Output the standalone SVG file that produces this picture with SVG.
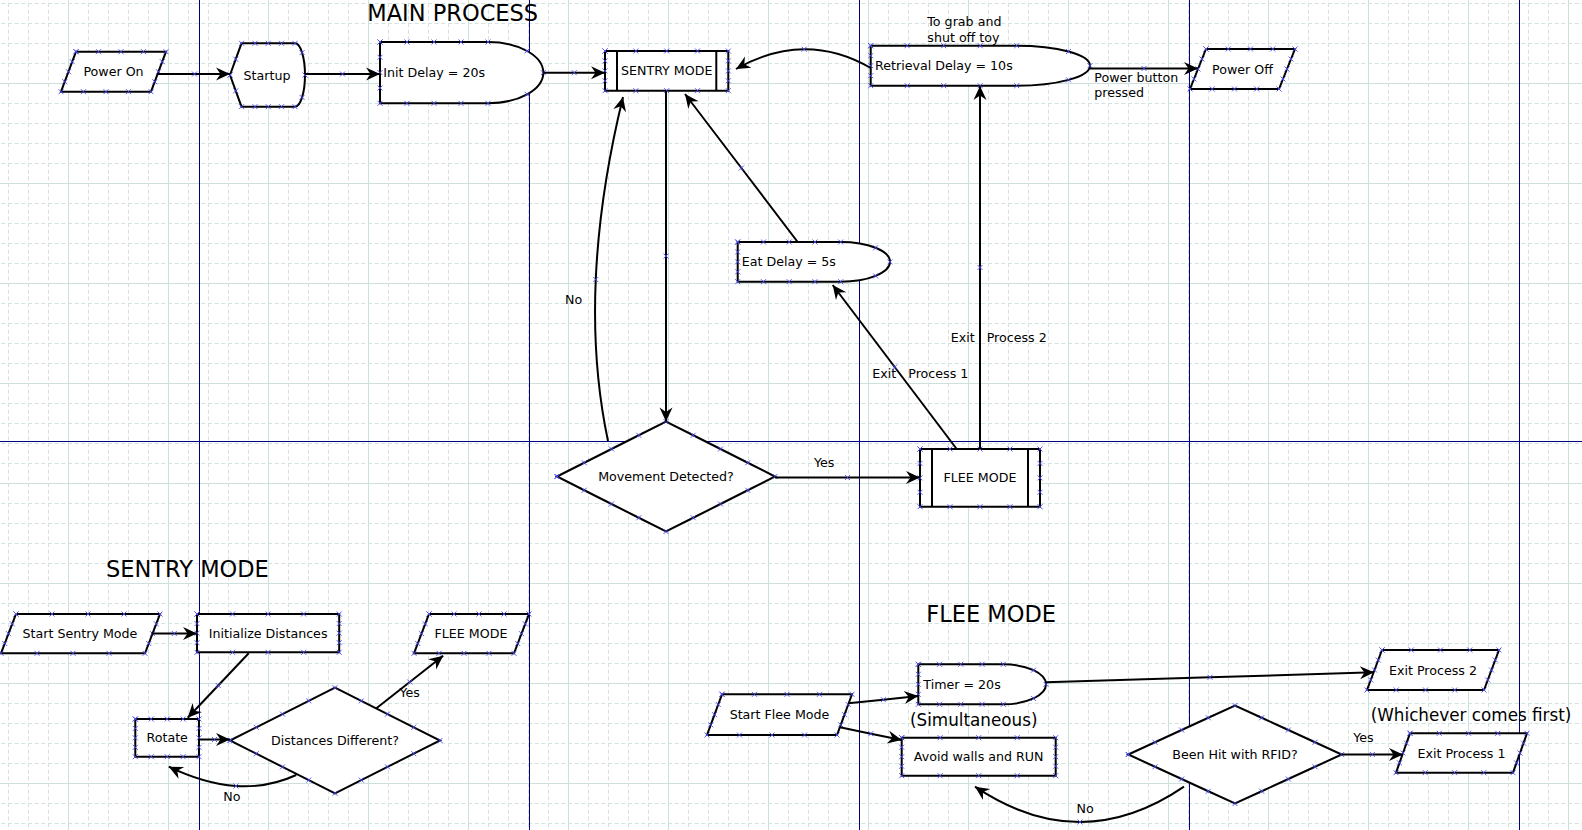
<svg xmlns="http://www.w3.org/2000/svg" width="1582" height="830" viewBox="0 0 1582 830">
<defs>
<pattern id="grid" patternUnits="userSpaceOnUse" x="68" y="83" width="100" height="100">
<path d="M20.5 0V100M40.5 0V100M60.5 0V100M80.5 0V100M0 20.5H100M0 40.5H100M0 60.5H100M0 80.5H100" stroke="#d2e2de" stroke-width="1" stroke-dasharray="4 2.667" fill="none"/>
<path d="M0.5 0V100M0 0.5H100" stroke="#cde0dc" stroke-width="1" fill="none"/>
</pattern>
<marker id="cp" markerUnits="userSpaceOnUse" markerWidth="8" markerHeight="8" viewBox="0 0 8 8" refX="4" refY="4" overflow="visible">
<path d="M1.5 1.5L6.5 6.5M6.5 1.5L1.5 6.5" stroke="#4b4bf0" stroke-width="0.9" fill="none"/>
</marker>
<marker id="arrow" markerUnits="userSpaceOnUse" markerWidth="16" markerHeight="14" viewBox="-15 -7 16 14" refX="0" refY="0" orient="auto" overflow="visible">
<path d="M0 0L-14 -6.5L-9.5 0L-14 6.5Z" fill="#000"/>
</marker>
</defs>
<style>
.shape{fill:#fff;stroke:#000;stroke-width:2;marker-start:url(#cp);marker-mid:url(#cp);marker-end:url(#cp)}
.inner{fill:none;stroke:#000;stroke-width:2}
.edge{fill:none;stroke:#000;stroke-width:2;marker-mid:url(#cp);marker-end:url(#arrow)}
text{font-family:"DejaVu Sans","Liberation Sans",sans-serif;font-size:12.65px;fill:#000}
.c{text-anchor:middle}
.title{font-size:22.5px}
.big{font-size:16.8px}
.pre{white-space:pre}
</style>
<rect width="1582" height="830" fill="#fff"/>
<rect width="1582" height="830" fill="url(#grid)"/>
<path d="M199.5 0V830M529.5 0V830M859.5 0V830M1189.5 0V830M1519.5 0V830M0 441.5H1582" stroke="#000080" stroke-width="1" fill="none"/>

<g id="n-power-on"><path class="shape" d="M76 51.7H98.5H121H143.5H166L162.25 61.7L158.5 71.7L154.75 81.7L151 91.7H128.5H106H83.5H61L64.75 81.7L68.5 71.7L72.25 61.7Z"/><text class="c" x="113.5" y="76">Power On</text></g>
<g id="n-startup"><path class="shape" d="M230 75L235.75 59.15L241.5 43.3H255H268.25H281.5H295A10 31.7 0 0 1 302.07 52.58A10 31.7 0 0 1 305 75A10 31.7 0 0 1 302.07 97.42A10 31.7 0 0 1 295 106.7H281.5H268.25H255H241.5L235.75 90.85Z"/><text class="c" x="267" y="79.5">Startup</text></g>
<g id="n-init-delay"><path class="shape" d="M380 42H407H434H461H488A55.3 30.65 0 0 1 527.1 51A55.3 30.65 0 0 1 543.3 72.65A55.3 30.65 0 0 1 527.1 94.3A55.3 30.65 0 0 1 488 103.3H461H434H407H380V88V72.65V57.3Z"/><text x="383.3" y="77">Init Delay = 20s</text></g>
<g id="n-sentry"><path class="shape" d="M605 51H635.8H666.7H697.5H728.3V60.9V70.9V80.8V90.7H697.5H666.7H635.8H605V80.8V70.9V60.9Z"/><path class="inner" d="M617 51V90.7M716.3 51V90.7"/><text class="c" x="666.7" y="75.4">SENTRY MODE</text></g>
<g id="n-retrieval"><path class="shape" d="M870.7 45.7H907.2H943.7H980.2H1016.7A73.3 20 0 0 1 1068.5 51.56A73.3 20 0 0 1 1090 65.7A73.3 20 0 0 1 1068.5 79.84A73.3 20 0 0 1 1016.7 85.7H980.2H943.7H907.2H870.7V75.7V65.7V55.7Z"/><text x="875" y="70.2">Retrieval Delay = 10s</text></g>
<g id="n-power-off"><path class="shape" d="M1206 49H1228.25H1250.5H1272.75H1295L1291 59L1287 69L1283 79L1279 89H1256.75H1234.5H1212.25H1190L1194 79L1198 69L1202 59Z"/><text class="c" x="1242.5" y="73.5">Power Off</text></g>
<g id="n-eat-delay"><path class="shape" d="M737.7 242H763.45H789.2H814.95H840.7A49.3 19.85 0 0 1 875.56 247.8A49.3 19.85 0 0 1 890 261.85A49.3 19.85 0 0 1 875.56 275.9A49.3 19.85 0 0 1 840.7 281.7H814.95H789.2H763.45H737.7V271.8V261.85V251.9Z"/><text x="741.7" y="266.3">Eat Delay = 5s</text></g>
<g id="n-movement"><path class="shape" d="M557 476.5L584.25 462.75L611.5 449L638.75 435.25L666 421.5L693.25 435.25L720.5 449L747.75 462.75L775 476.5L747.75 490.25L720.5 504L693.25 517.75L666 531.5L638.75 517.75L611.5 504L584.25 490.25Z"/><text class="c" x="666" y="480.8">Movement Detected?</text></g>
<g id="n-flee"><path class="shape" d="M920 449H950H980H1010H1040V463.4V477.9V492.3V506.7H1010H980H950H920V492.3V477.9V463.4Z"/><path class="inner" d="M932 449V506.7M1028 449V506.7"/><text class="c" x="980" y="482">FLEE MODE</text></g>

<g id="n-start-sentry"><path class="shape" d="M16 614H52H88H124H160L156.25 623.8L152.5 633.65L148.75 643.5L145 653.3H109H73H37H1L4.75 643.5L8.5 633.65L12.25 623.8Z"/><text class="c" x="80" y="637.8">Start Sentry Mode</text></g>
<g id="n-init-dist"><path class="shape" d="M197 614H232.55H268.1H303.65H339.2V623.6V633.15V642.7V652.3H303.65H268.1H232.55H197V642.7V633.15V623.6Z"/><text class="c" x="268.1" y="637.5">Initialize Distances</text></g>
<g id="n-flee-sub"><path class="shape" d="M429 614H454H479H504H529L525.25 623.8L521.5 633.65L517.75 643.5L514 653.3H489H464H439H414L417.75 643.5L421.5 633.65L425.25 623.8Z"/><text class="c" x="471" y="637.8">FLEE MODE</text></g>
<g id="n-rotate"><path class="shape" d="M135.3 719H151.2H167.2H183.1H199V728.4V737.85V747.3V756.7H183.1H167.2H151.2H135.3V747.3V737.85V728.4Z"/><text class="c" x="167.2" y="742.3">Rotate</text></g>
<g id="n-dist-diff"><path class="shape" d="M230 740.5L256.25 727.3L282.5 714.1L308.75 700.9L335 687.7L361.25 700.9L387.5 714.1L413.75 727.3L440 740.5L413.75 753.7L387.5 766.9L361.25 780.1L335 793.3L308.75 780.1L282.5 766.9L256.25 753.7Z"/><text class="c" x="335" y="744.8">Distances Different?</text></g>

<g id="n-start-flee"><path class="shape" d="M722 694.3H754.5H787H819.5H852L848.25 704.5L844.5 714.65L840.75 724.8L837 735H804.5H772H739.5H707L710.75 724.8L714.5 714.65L718.25 704.5Z"/><text class="c" x="779.5" y="719">Start Flee Mode</text></g>
<g id="n-timer"><path class="shape" d="M918.3 664.3H939.55H960.8H982.05H1003.3A42.7 20 0 0 1 1033.5 670.16A42.7 20 0 0 1 1046 684.3A42.7 20 0 0 1 1033.5 698.44A42.7 20 0 0 1 1003.3 704.3H982.05H960.8H939.55H918.3V694.3V684.3V674.3Z"/><text x="923.3" y="688.8">Timer = 20s</text></g>
<g id="n-avoid"><path class="shape" d="M901.7 737.7H940.2H978.7H1017.2H1055.7V747.2V756.7V766.2V775.7H1017.2H978.7H940.2H901.7V766.2V756.7V747.2Z"/><text class="c" x="978.7" y="761">Avoid walls and RUN</text></g>
<g id="n-exit2"><path class="shape" d="M1382 650H1411.25H1440.5H1469.75H1499L1495.25 660L1491.5 670L1487.75 680L1484 690H1454.75H1425.5H1396.25H1367L1370.75 680L1374.5 670L1378.25 660Z"/><text class="c" x="1433" y="674.5">Exit Process 2</text></g>
<g id="n-rfid"><path class="shape" d="M1128.3 754.5L1155 742.25L1181.65 730L1208.3 717.75L1235 705.5L1261.7 717.75L1288.35 730L1315 742.25L1341.7 754.5L1315 766.75L1288.35 779L1261.7 791.25L1235 803.5L1208.3 791.25L1181.65 779L1155 766.75Z"/><text class="c" x="1235" y="759">Been Hit with RFID?</text></g>
<g id="n-exit1"><path class="shape" d="M1410 733.3H1439.25H1468.5H1497.75H1527L1523.5 743.15L1520 753L1516.5 762.85L1513 772.7H1483.75H1454.5H1425.25H1396L1399.5 762.85L1403 753L1406.5 743.15Z"/><text class="c" x="1461.5" y="757.5">Exit Process 1</text></g>

<g id="connectors">
<path class="edge" d="M157.6 74L194.5 74L230 74"/>
<path class="edge" d="M305 74L342.5 74L380 74"/>
<path class="edge" d="M543.3 72.7L574.2 72.7L605 72.7"/>
<path class="edge" d="M666 90.7L666 256.1L666 421.5"/>
<path class="edge" d="M775 477.5L847.5 477.5L920 477.5"/>
<path class="edge" d="M956.7 449L894.7 367L832.7 285"/>
<path class="edge" d="M797.7 242L741.4 168L685 94"/>
<path class="edge" d="M980 449L980 267.5L980 86"/>
<path class="edge" d="M870.7 68Q837.85 49 804.2 49.25Q770.5 49.5 736 69"/>
<path class="edge" d="M1090 68.5L1144 68.5L1198 68.5"/>
<path class="edge" d="M608 441Q592 365.5 595.75 279.5Q599.5 193.5 623 97"/>
<path class="edge" d="M151.5 633.5L174.3 633.5L197 633.5"/>
<path class="edge" d="M248.7 653.3L218.2 685.5L187.7 717.7"/>
<path class="edge" d="M199 739.5L214.5 739.5L230 739.5"/>
<path class="edge" d="M376.4 708.3L409.8 682L443.2 655.7"/>
<path class="edge" d="M296.2 775Q267.85 788.1 236 786Q204.15 783.9 168.8 766.7"/>
<path class="edge" d="M848.3 703.3L883.3 699.65L918.3 696"/>
<path class="edge" d="M840 727.3L870.85 733.65L901.7 740"/>
<path class="edge" d="M1046 682.3L1210 677.3L1374 672.3"/>
<path class="edge" d="M1341.7 754.5L1372.35 754.5L1403 754.5"/>
<path class="edge" d="M1184 786.7Q1132.25 822 1080 822Q1027.75 822 975 786.7"/>
</g>

<g id="labels">
<text class="title" x="367.3" y="21">MAIN PROCESS</text>
<text class="title" x="106" y="577">SENTRY MODE</text>
<text class="title" x="926.3" y="622">FLEE MODE</text>
<text x="927.3" y="26">To grab and</text>
<text x="927.3" y="41.5">shut off toy</text>
<text x="1094.3" y="81.7">Power button</text>
<text x="1094.3" y="96.7">pressed</text>
<text x="814" y="467.3">Yes</text>
<text x="565" y="303.5">No</text>
<text class="pre" xml:space="preserve" x="872.3" y="378.3">Exit   Process 1</text>
<text class="pre" xml:space="preserve" x="950.7" y="341.7">Exit   Process 2</text>
<text x="399.5" y="696.7">Yes</text>
<text x="223.2" y="800.7">No</text>
<text x="1353.3" y="742.3">Yes</text>
<text x="1076.5" y="813">No</text>
<text class="big" x="910" y="726">(Simultaneous)</text>
<text class="big" x="1370.7" y="720.7">(Whichever comes first)</text>
</g>
</svg>
